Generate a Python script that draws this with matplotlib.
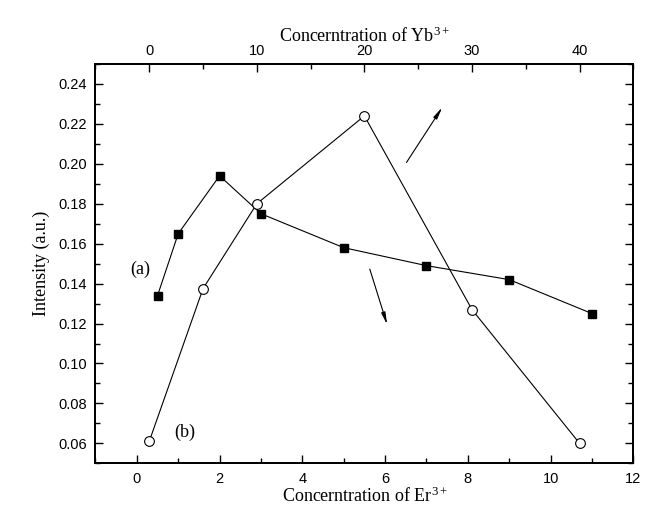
import matplotlib.pyplot as plt

# (a) intensity vs Er3+ concentration
er_conc = [0.5, 1, 2, 3, 5, 7, 9, 11]
er_intensity = [0.134, 0.165, 0.194, 0.175, 0.158, 0.149, 0.142, 0.125]

# (b) intensity vs Yb3+ concentration
yb_conc = [0, 5, 10, 20, 30, 40]
yb_intensity = [0.061, 0.1375, 0.180, 0.224, 0.127, 0.060]

er_ticks = [0, 2, 4, 6, 8, 10, 12]
yb_ticks = [0, 10, 20, 30, 40]
y_ticks = [0.06, 0.08, 0.10, 0.12, 0.14, 0.16, 0.18, 0.20, 0.22, 0.24]

serif = 'Liberation Serif'
sans = 'Liberation Sans'

plt.rcParams['mathtext.fontset'] = 'custom'
plt.rcParams['mathtext.rm'] = serif
plt.rcParams['mathtext.it'] = serif + ':italic'

fig = plt.figure(figsize=(6.57, 5.16), dpi=100)
ax = fig.add_axes([0.1453, 0.1021, 0.8187, 0.7739])
ax_top = ax.twiny()

ax.plot(er_conc, er_intensity, color='black', lw=0.8, marker='s',
        markersize=6.3, markerfacecolor='black', markeredgecolor='black', zorder=3)
ax_top.plot(yb_conc, yb_intensity, color='black', lw=0.8, marker='o',
            markersize=7, markerfacecolor='white', markeredgecolor='black',
            markeredgewidth=0.8, zorder=3)

ax.set_xlim(-1, 12)
ax.set_ylim(0.05, 0.25)
ax_top.set_xlim(-5, 45)

ax.set_xticks(er_ticks)
ax.set_xticks(range(-1, 12, 1), minor=True)
ax.set_yticks(y_ticks)
ax.set_yticks([0.05 + 0.01 * i for i in range(21)], minor=True)
ax.set_yticklabels(['%.2f' % v for v in y_ticks])
ax_top.set_xticks(yb_ticks)
ax_top.set_xticks([-5, 5, 15, 25, 35, 45], minor=True)

ax.tick_params(axis='x', which='both', direction='in', top=False, bottom=True)
ax.tick_params(axis='y', which='both', direction='in', left=True, right=True)
ax.tick_params(which='major', length=6, width=1.0, labelsize=10.5, pad=6)
ax.tick_params(which='minor', length=3.5, width=1.0)
ax_top.tick_params(axis='x', which='both', direction='in', top=True, bottom=False)
ax_top.tick_params(which='major', length=6, width=1.0, labelsize=10.5, pad=4)
ax_top.tick_params(which='minor', length=3.5, width=1.0)

for a in (ax, ax_top):
    for sp in a.spines.values():
        sp.set_linewidth(1.3)
    for lbl in a.get_xticklabels() + a.get_yticklabels():
        lbl.set_fontfamily(sans)

ax.set_xlabel(r'Concerntration of Er$^{\mathrm{3+}}$', fontfamily=serif, fontsize=13, labelpad=1)
ax.set_ylabel('Intensity (a.u.)', fontfamily=serif, fontsize=13, labelpad=6)
ax_top.set_xlabel(r'Concerntration of Yb$^{\mathrm{3+}}$', fontfamily=serif, fontsize=13, labelpad=2)

ax.text(0.09, 0.147, '(a)', fontfamily=serif, fontsize=13, ha='center', va='center')
ax.text(1.16, 0.0655, '(b)', fontfamily=serif, fontsize=13, ha='center', va='center')

arrow = dict(arrowstyle='-|>,head_length=0.7,head_width=0.12', color='black', lw=0.8)
ax.annotate('', xy=(7.42, 0.2295), xytext=(6.48, 0.1995), arrowprops=arrow)
ax.annotate('', xy=(6.07, 0.1181), xytext=(5.61, 0.1486), arrowprops=arrow)

fig.savefig('out.png', dpi=100)
